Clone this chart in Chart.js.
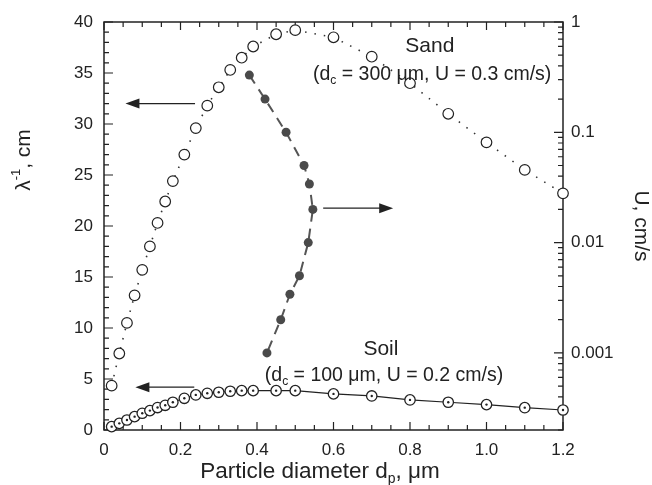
<!DOCTYPE html>
<html>
<head>
<meta charset="utf-8">
<script src="https://cdn.jsdelivr.net/npm/chart.js@4.4.0/dist/chart.umd.min.js"></script>
<style>
html, body { margin: 0; padding: 0; background: #fff; }
#wrap { width: 652px; height: 485px; }
</style>
</head>
<body>
<div id="wrap"><canvas id="chart"></canvas></div>
<script>
// Sand column: particle diameter (um) vs travel distance 1/lambda (cm)
const sandDiameter = [0.02, 0.04, 0.06, 0.08, 0.1, 0.12, 0.14, 0.16, 0.18, 0.21, 0.24, 0.27, 0.3, 0.33, 0.36, 0.39, 0.45, 0.5, 0.6, 0.7, 0.8, 0.9, 1.0, 1.1, 1.2];
const sandLambdaInv = [4.35, 7.5, 10.5, 13.2, 15.7, 18.0, 20.3, 22.4, 24.4, 27.0, 29.6, 31.8, 33.6, 35.3, 36.5, 37.6, 38.8, 39.2, 38.5, 36.6, 34.0, 31.0, 28.2, 25.5, 23.2];

// Soil column
const soilDiameter = [0.02, 0.04, 0.06, 0.08, 0.1, 0.12, 0.14, 0.16, 0.18, 0.21, 0.24, 0.27, 0.3, 0.33, 0.36, 0.39, 0.45, 0.5, 0.6, 0.7, 0.8, 0.9, 1.0, 1.1, 1.2];
const soilLambdaInv = [0.33, 0.65, 0.98, 1.31, 1.64, 1.9, 2.2, 2.42, 2.72, 3.11, 3.44, 3.6, 3.7, 3.8, 3.86, 3.86, 3.86, 3.86, 3.54, 3.34, 2.95, 2.72, 2.49, 2.19, 1.96];

// Flow velocity U (cm/s, right log axis) needed for the same travel distance
const uDiameter = [0.38, 0.421, 0.476, 0.523, 0.537, 0.546, 0.534, 0.511, 0.486, 0.462, 0.426];
const uVelocity = [0.33, 0.2, 0.1, 0.05, 0.034, 0.02, 0.01, 0.005, 0.0034, 0.002, 0.001];

// axis ticks
const xTicks = [0, 0.2, 0.4, 0.6, 0.8, 1, 1.2];
const leftTicks = [0, 5, 10, 15, 20, 25, 30, 35, 40];
const rightTicks = [1, 0.1, 0.01, 0.001];

const FONT = '"Liberation Sans", Arial, Helvetica, sans-serif';
const INK = '#222';

function pts(xs, ys) {
    return xs.map((x, i) => ({ x: x, y: ys[i] }));
}

// text with sub/superscript pieces
function richText(ctx, parts, x, y, size) {
    let w = 0;
    parts.forEach(p => {
        ctx.font = (p.s ? size * 0.62 : size) + 'px ' + FONT;
        p.w = ctx.measureText(p.t).width;
        w += p.w;
    });
    let cx = x - w / 2;
    ctx.textBaseline = 'middle';
    ctx.textAlign = 'left';
    parts.forEach(p => {
        ctx.font = (p.s ? size * 0.62 : size) + 'px ' + FONT;
        let dy = 0;
        if (p.s === 'sup') dy = -size * 0.35;
        if (p.s === 'sub') dy = size * 0.3;
        ctx.fillText(p.t, cx, y + dy);
        cx += p.w;
    });
}

function arrow(ctx, x1, y1, x2, y2) {
    const dir = Math.sign(x2 - x1);
    ctx.beginPath();
    ctx.moveTo(x1, y1);
    ctx.lineTo(x2 - dir * 10, y2);
    ctx.stroke();
    ctx.beginPath();
    ctx.moveTo(x2, y2);
    ctx.lineTo(x2 - dir * 14, y2 - 5);
    ctx.lineTo(x2 - dir * 14, y2 + 5);
    ctx.closePath();
    ctx.fill();
}

const frameTicks = {
    id: 'frameTicks',
    beforeDatasetsDraw(chart) {
        const { ctx, chartArea: a, scales } = chart;
        ctx.save();
        ctx.strokeStyle = INK;
        ctx.lineWidth = 1.2;
        ctx.beginPath();
        // left axis: minor every 1, major every 5
        for (let v = 0; v <= 40; v++) {
            const y = scales.y.getPixelForValue(v);
            const len = v % 5 === 0 ? 9 : 5;
            ctx.moveTo(a.left, y); ctx.lineTo(a.left + len, y);
        }
        // bottom and top: minor every 0.05, major every 0.2
        for (let i = 0; i <= 24; i++) {
            const x = scales.x.getPixelForValue(i * 0.05);
            const len = i % 4 === 0 ? 8 : 5;
            ctx.moveTo(x, a.bottom); ctx.lineTo(x, a.bottom - len);
            ctx.moveTo(x, a.top); ctx.lineTo(x, a.top + len);
        }
        // right log axis
        const r = scales.y2;
        for (let e = -4; e <= 0; e++) {
            for (let m = 1; m <= 9; m++) {
                const v = m * Math.pow(10, e);
                if (v < r.min * 0.999 || v > r.max * 1.001) continue;
                const y = r.getPixelForValue(v);
                const len = m === 1 ? 9 : 5;
                ctx.moveTo(a.right, y); ctx.lineTo(a.right - len, y);
            }
        }
        ctx.stroke();
        ctx.lineWidth = 1.5;
        ctx.strokeRect(a.left, a.top, a.right - a.left, a.bottom - a.top);
        ctx.restore();
    },
    afterDraw(chart) {
        const { ctx, chartArea: a, scales } = chart;
        const sx = scales.x, sy = scales.y, sr = scales.y2;
        ctx.save();
        ctx.fillStyle = INK;
        ctx.strokeStyle = INK;
        ctx.lineWidth = 1.3;

        // arrows pointing to the axis each curve belongs to
        arrow(ctx, sx.getPixelForValue(0.238), sy.getPixelForValue(32), sx.getPixelForValue(0.056), sy.getPixelForValue(32));
        arrow(ctx, sx.getPixelForValue(0.573), sr.getPixelForValue(0.0205), sx.getPixelForValue(0.756), sr.getPixelForValue(0.0205));
        arrow(ctx, sx.getPixelForValue(0.236), sy.getPixelForValue(4.2), sx.getPixelForValue(0.082), sy.getPixelForValue(4.2));

        // curve labels
        richText(ctx, [{ t: 'Sand' }], sx.getPixelForValue(0.852), sy.getPixelForValue(37.65), 21);
        richText(ctx, [{ t: '(d' }, { t: 'c', s: 'sub' }, { t: ' = 300 \u03bcm, U = 0.3 cm/s)' }],
            sx.getPixelForValue(0.858), sy.getPixelForValue(34.87), 19.5);
        richText(ctx, [{ t: 'Soil' }], sx.getPixelForValue(0.724), sy.getPixelForValue(7.93), 21);
        richText(ctx, [{ t: '(d' }, { t: 'c', s: 'sub' }, { t: ' = 100 \u03bcm, U = 0.2 cm/s)' }],
            sx.getPixelForValue(0.732), sy.getPixelForValue(5.3), 19.5);

        // axis titles
        richText(ctx, [{ t: 'Particle diameter d' }, { t: 'p', s: 'sub' }, { t: ', \u03bcm' }], 320, 472, 22.5);

        ctx.save();
        ctx.translate(24, 160);
        ctx.rotate(-Math.PI / 2);
        richText(ctx, [{ t: '\u03bb' }, { t: '-1', s: 'sup' }, { t: ', cm' }], 0, 0, 21);
        ctx.restore();

        ctx.save();
        ctx.translate(641, 226);
        ctx.rotate(Math.PI / 2);
        richText(ctx, [{ t: 'U, cm/s' }], 0, 0, 21);
        ctx.restore();

        ctx.restore();
    }
};

const ctx = document.getElementById('chart').getContext('2d');
const chart = new Chart(ctx, {
    type: 'scatter',
    data: {
        datasets: [
            {
                // centre dots of the soil markers
                data: pts(soilDiameter, soilLambdaInv),
                yAxisID: 'y',
                showLine: false,
                pointRadius: 1.2,
                pointBackgroundColor: INK,
                pointBorderWidth: 0,
                clip: false
            },
            {
                label: 'Soil',
                data: pts(soilDiameter, soilLambdaInv),
                yAxisID: 'y',
                showLine: true,
                borderColor: INK,
                borderWidth: 1.2,
                pointRadius: 5.2,
                pointBackgroundColor: '#fff',
                pointBorderColor: INK,
                pointBorderWidth: 1.3,
                clip: false
            },
            {
                label: 'Sand',
                data: pts(sandDiameter, sandLambdaInv),
                yAxisID: 'y',
                showLine: true,
                borderColor: '#333',
                borderWidth: 1.6,
                borderDash: [1.5, 8],
                pointRadius: 5.3,
                pointBackgroundColor: '#fff',
                pointBorderColor: INK,
                pointBorderWidth: 1.2,
                clip: false
            },
            {
                label: 'U',
                data: pts(uDiameter, uVelocity),
                yAxisID: 'y2',
                showLine: true,
                borderColor: '#555',
                borderWidth: 2,
                borderDash: [10, 7],
                pointRadius: 4.5,
                pointBackgroundColor: '#4a4a4a',
                pointBorderColor: '#4a4a4a',
                pointBorderWidth: 0,
                clip: false
            }
        ]
    },
    options: {
        responsive: true,
        maintainAspectRatio: false,
        animation: false,
        layout: { padding: { top: 22, left: 0, right: 0, bottom: 0 } },
        plugins: {
            legend: { display: false },
            tooltip: { enabled: false }
        },
        scales: {
            x: {
                type: 'linear',
                min: 0,
                max: 1.2,
                grid: { display: false, drawTicks: false },
                border: { display: false },
                afterBuildTicks: s => { s.ticks = xTicks.map(v => ({ value: v })); },
                ticks: { color: INK, font: { family: FONT, size: 17 }, padding: 10, maxRotation: 0, autoSkip: false },
                afterFit: s => { s.height = 55; }
            },
            y: {
                type: 'linear',
                position: 'left',
                min: 0,
                max: 40,
                grid: { display: false, drawTicks: false },
                border: { display: false },
                afterBuildTicks: s => { s.ticks = leftTicks.map(v => ({ value: v })); },
                ticks: { color: INK, font: { family: FONT, size: 17 }, padding: 11, autoSkip: false },
                afterFit: s => { s.width = 104; }
            },
            y2: {
                type: 'logarithmic',
                position: 'right',
                min: 0.0002,
                max: 1,
                grid: { display: false, drawTicks: false },
                border: { display: false },
                afterBuildTicks: s => { s.ticks = rightTicks.map(v => ({ value: v })); },
                ticks: {
                    color: INK, font: { family: FONT, size: 17 }, padding: 8, autoSkip: false,
                    callback: v => String(v)
                },
                afterFit: s => { s.width = 89; }
            }
        }
    },
    plugins: [frameTicks]
});
</script>
</body>
</html>
